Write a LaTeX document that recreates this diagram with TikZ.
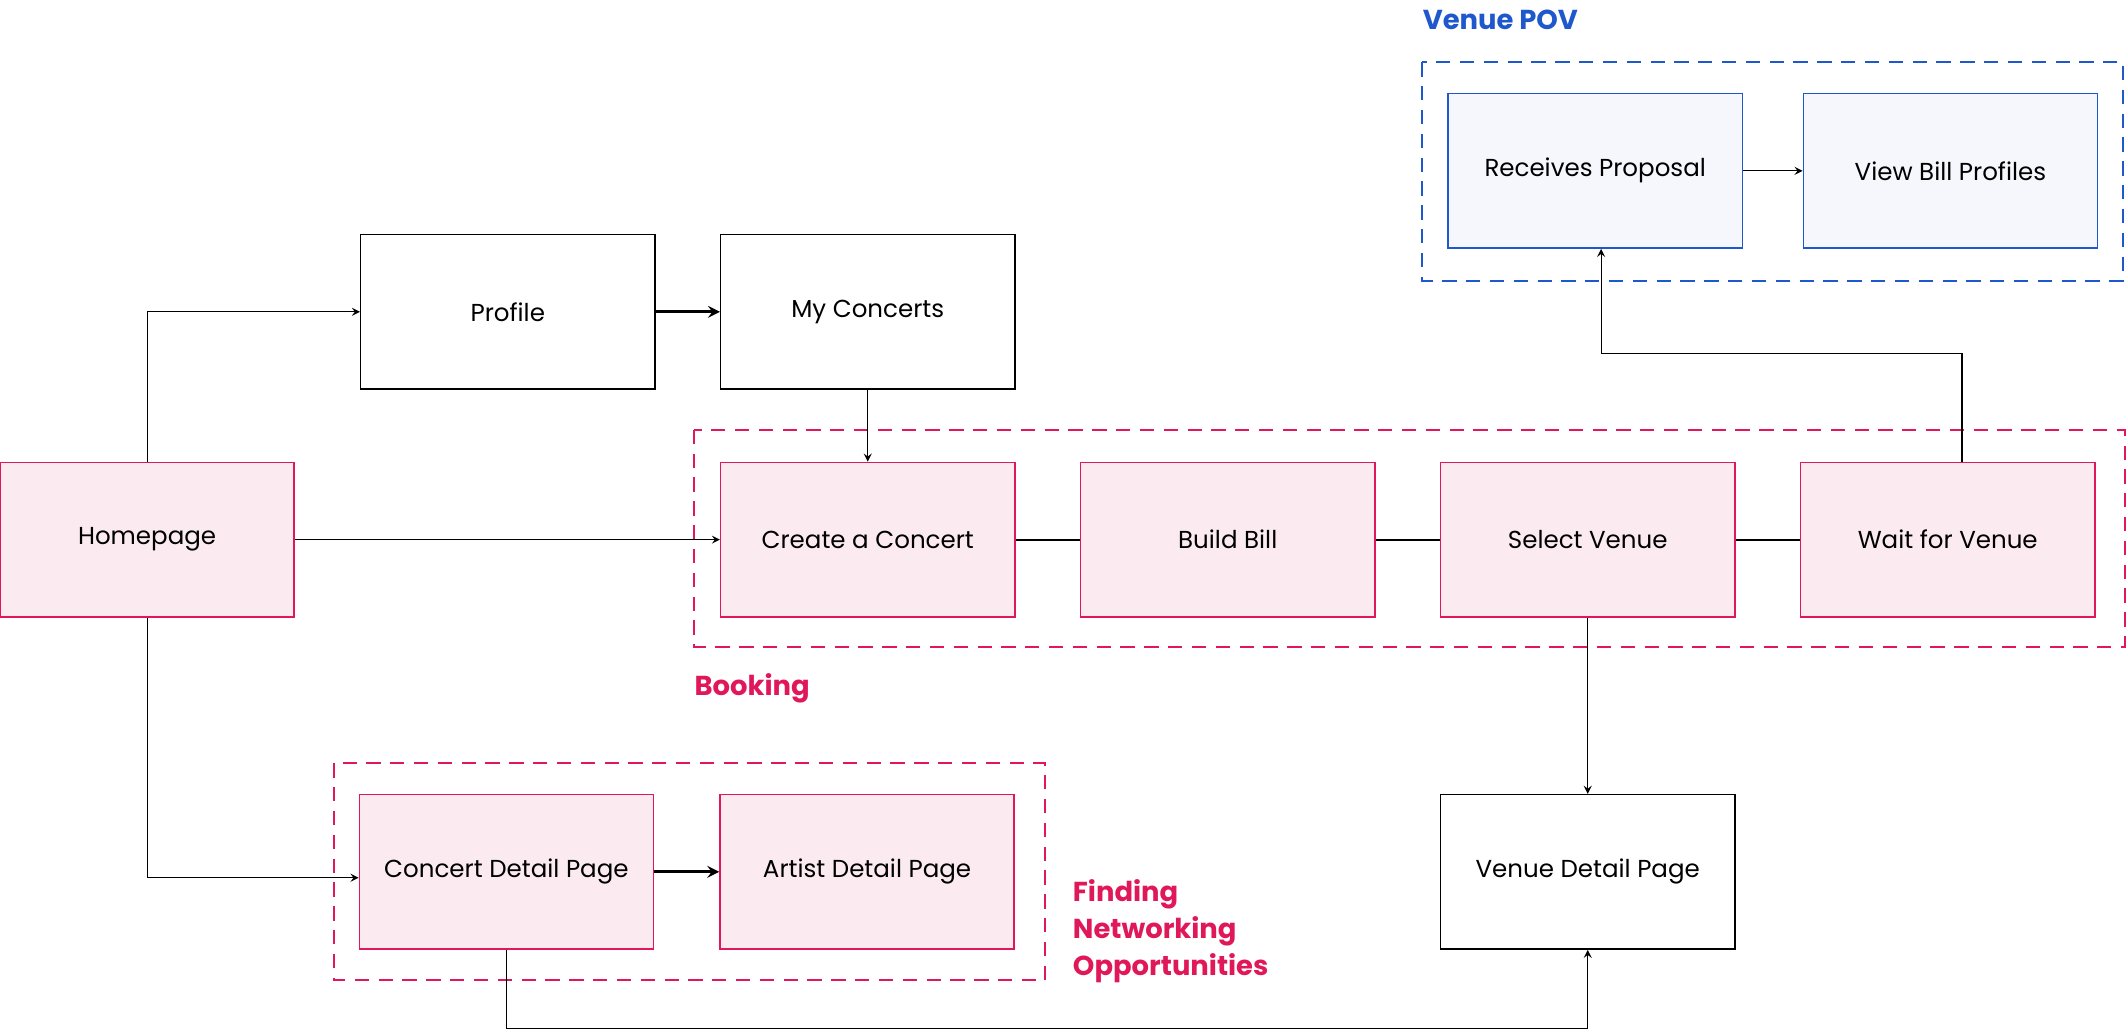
\documentclass[tikz,border=0pt]{standalone}
\usepackage{fontspec}
\setmainfont{Poppins}
\usepackage{xcolor}
\definecolor{crimson}{HTML}{E0185A}
\definecolor{pinkfill}{HTML}{FBEBF0}
\definecolor{povblue}{HTML}{1E58CC}
\definecolor{bluefill}{HTML}{F5F7FC}
\begin{document}
\begin{tikzpicture}[x=0.02cm,y=-0.02cm]
	\tikzstyle{page}=[draw=black,line width=0.6pt,minimum width=4.34cm,minimum height=2.28cm,font=\fontsize{10.3}{13}\selectfont,inner sep=0pt]
	\tikzstyle{book}=[page,draw=crimson,fill=pinkfill]
	\tikzstyle{pov}=[page,draw=povblue,fill=bluefill]
	\tikzstyle{grp}=[draw,dashed,dash pattern=on 6pt off 4pt,line width=0.8pt]
	\tikzstyle{tag}=[anchor=west,inner sep=0pt,font=\fontsize{11.5}{15.5}\selectfont\bfseries,align=left]
	\tikzstyle{link}=[->,>=stealth,line width=0.5pt]
	\useasboundingbox (0,0) rectangle (1568,760);
	% groups
	\draw[grp,crimson] (512,317) rectangle (1567,477);
	\draw[grp,povblue] (1049,46) rectangle (1566,207);
	\draw[grp,crimson] (246,563) rectangle (771,723);
	\node[tag,text=crimson] (lbook) at (512,508) {Booking};
	\node[tag,text=povblue] (lpov) at (1049,15) {Venue POV};
	\node[tag,text=crimson] (lfind) at (791,687) {Finding\\Networking\\Opportunities};
	% pages
	\node[page](profile) at (374.5,230) {Profile};
	\node[page](myc) at (640,230) {My Concerts};
	\node[book](home) at (108.5,398) {Homepage};
	\node[book](create) at (640,398) {Create a Concert};
	\node[book](bill) at (905.5,398) {Build Bill};
	\node[book](select) at (1171,398) {Select Venue};
	\node[book](wait) at (1436.5,398) {Wait for Venue};
	\node[pov](recv) at (1176.5,126) {Receives Proposal};
	\node[pov](view) at (1438.5,126) {View Bill Profiles};
	\node[book](cdp) at (373.5,643) {Concert Detail Page};
	\node[book](adp) at (639.5,643) {Artist Detail Page};
	\node[page](vdp) at (1171,643) {Venue Detail Page};
	% connectors
	\draw[link] (home.north) |- (profile.west);
	\draw[link,line width=1.2pt] (profile) -- (myc);
	\draw[link] (myc) -- (create);
	\draw[link] (home) -- (create);
	\draw[line width=0.9pt] (create) -- (bill);
	\draw[line width=0.9pt] (bill) -- (select);
	\draw[line width=0.9pt] (select) -- (wait);
	\draw[link] ([xshift=6pt]wait.north) |- ++(0,-80) -| ([xshift=2.5pt]recv.south);
	\draw[link] (recv) -- (view);
	\draw[link] (select) -- (vdp);
	\draw[link] (home.south) |- ([yshift=-2.5pt]cdp.west);
	\draw[link,line width=1.2pt] (cdp) -- (adp);
	\draw[link] (cdp.south) |- ++(0,58) -| (vdp.south);
\end{tikzpicture}
\end{document}
